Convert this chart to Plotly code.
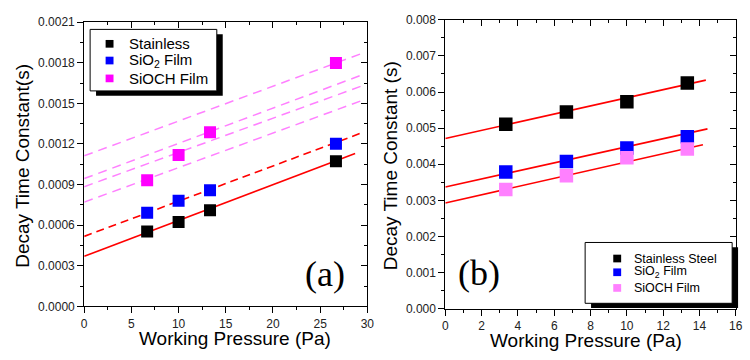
import plotly.graph_objects as go

W, H = 750, 360
def PX(x): return x / W
def PY(y): return 1 - y / H

# ---------------- data: panel (a) ----------------
pressure_a = [6.67, 10.0, 13.33, 26.67]
stainless_a = [0.000553, 0.000624, 0.000711, 0.001072]
sio2_a = [0.000692, 0.000780, 0.000858, 0.001202]
sioch_a = [0.000932, 0.001118, 0.001287, 0.001798]

fit_x_stainless_a = [0.0, 28.7]
fit_y_stainless_a = [0.000370, 0.001129]
fit_x_sio2_a = [0.0, 29.4]
fit_y_sio2_a = [0.000517, 0.001282]
fit_x_sioch_a = [0.0, 29.4]
sioch_fit_start_a = [0.001112, 0.000944, 0.000884, 0.000770]
sioch_fit_end_a = [0.001868, 0.001709, 0.001628, 0.001520]

# ---------------- data: panel (b) ----------------
pressure_b = [3.33, 6.67, 10.0, 13.33]
stainless_b = [0.00511, 0.00545, 0.00573, 0.00625]
sio2_b = [0.003785, 0.00408, 0.00445, 0.00476]
sioch_b = [0.00330, 0.00368, 0.00418, 0.00442]

fit_x_stainless_b = [0.0, 14.35]
fit_y_stainless_b = [0.004716, 0.00633]
fit_x_sio2_b = [0.0, 14.44]
fit_y_sio2_b = [0.00337, 0.00498]
fit_x_sioch_b = [0.0, 14.19]
fit_y_sioch_b = [0.00293, 0.00454]

FONT = "Arial, Liberation Sans, sans-serif"
SERIF = "Times New Roman, Liberation Serif, serif"
RED = "#ff0000"
MAGENTA = "#ff00ff"
PINK = "#ff80ff"
BLUE = "#0000ff"

fig = go.Figure()

# panel (a) fits
for s, e in zip(sioch_fit_start_a, sioch_fit_end_a):
    fig.add_trace(go.Scatter(x=fit_x_sioch_a, y=[s, e], mode="lines",
                             line=dict(color=PINK, width=1.5, dash="9px,6px"),
                             showlegend=False, hoverinfo="skip", xaxis="x", yaxis="y"))
fig.add_trace(go.Scatter(x=fit_x_sio2_a, y=fit_y_sio2_a, mode="lines",
                         line=dict(color=RED, width=1.6, dash="8px,5px"),
                         showlegend=False, hoverinfo="skip", xaxis="x", yaxis="y"))
fig.add_trace(go.Scatter(x=fit_x_stainless_a, y=fit_y_stainless_a, mode="lines",
                         line=dict(color=RED, width=1.6),
                         showlegend=False, hoverinfo="skip", xaxis="x", yaxis="y"))
for ys, c, n in [(stainless_a, "black", "Stainless"), (sio2_a, BLUE, "SiO2 Film"),
                 (sioch_a, MAGENTA, "SiOCH Film")]:
    fig.add_trace(go.Scatter(x=pressure_a, y=ys, mode="markers", name=n,
                             marker=dict(symbol="square", size=12, color=c, line=dict(width=0)),
                             showlegend=False, xaxis="x", yaxis="y"))

# panel (b) fits
for fx, fy in [(fit_x_stainless_b, fit_y_stainless_b), (fit_x_sio2_b, fit_y_sio2_b),
               (fit_x_sioch_b, fit_y_sioch_b)]:
    fig.add_trace(go.Scatter(x=fx, y=fy, mode="lines", line=dict(color=RED, width=1.6),
                             showlegend=False, hoverinfo="skip", xaxis="x2", yaxis="y2"))
for ys, c, n in [(stainless_b, "black", "Stainless Steel"), (sio2_b, BLUE, "SiO2 Film"),
                 (sioch_b, PINK, "SiOCH Film")]:
    fig.add_trace(go.Scatter(x=pressure_b, y=ys, mode="markers", name=n,
                             marker=dict(symbol="square", size=13.5, color=c, line=dict(width=0)),
                             showlegend=False, xaxis="x2", yaxis="y2"))

# invisible traces to create the mirror (top/right) axes
fig.add_trace(go.Scatter(x=[None], y=[None], showlegend=False, hoverinfo="skip", xaxis="x3", yaxis="y3"))
fig.add_trace(go.Scatter(x=[None], y=[None], showlegend=False, hoverinfo="skip", xaxis="x4", yaxis="y4"))

xa = [PX(82.3), PX(369.3)]
ya = [PY(311.5), PY(15.7)]
xb = [PX(448.3), PX(742.7)]
yb = [PY(314), PY(13.3)]

tickfont = dict(family=FONT, size=12, color="#222")
titlefont = dict(family=FONT, size=19, color="black")

def main_axis(domain, rng, dtick, minor_dtick, anchor, fmt=None):
    d = dict(domain=domain, range=rng, anchor=anchor, showgrid=False, zeroline=False,
             showline=True, linecolor="black", linewidth=1,
             ticks="outside", ticklen=6, tickwidth=1, tickcolor="black",
             tick0=0, dtick=dtick, tickfont=tickfont, ticklabeloverflow="allow",
             minor=dict(ticks="outside", ticklen=3, tickwidth=1, tickcolor="black",
                        dtick=minor_dtick, tick0=0, showgrid=False))
    if fmt:
        d["tickformat"] = fmt
    return d

def mirror_axis(over, anchor, side, rng, dtick, minor_dtick):
    return dict(overlaying=over, anchor=anchor, side=side, range=rng, showgrid=False,
                zeroline=False, showline=True, linecolor="black", linewidth=1,
                ticks="inside", ticklen=6, tickwidth=1, tickcolor="black",
                tick0=0, dtick=dtick, showticklabels=False,
                minor=dict(ticks="inside", ticklen=3, tickwidth=1, tickcolor="black",
                           dtick=minor_dtick, tick0=0, showgrid=False))

fig.update_layout(
    width=W, height=H, margin=dict(l=0, r=0, t=0, b=0),
    paper_bgcolor="white", plot_bgcolor="white", showlegend=False,
    font=dict(family=FONT),
    xaxis=main_axis(xa, [0, 30], 5, 2.5, "y"),
    yaxis=main_axis(ya, [0, 0.0021], 0.0003, 0.00015, "x", fmt=".4f"),
    xaxis2=main_axis(xb, [0, 16], 2, 1, "y2"),
    yaxis2=main_axis(yb, [0, 0.008], 0.001, 0.0005, "x2", fmt=".3f"),
    xaxis3=mirror_axis("x", "y3", "top", [0, 30], 5, 2.5),
    yaxis3=mirror_axis("y", "x3", "right", [0, 0.0021], 0.0003, 0.00015),
    xaxis4=mirror_axis("x2", "y4", "top", [0, 16], 2, 1),
    yaxis4=mirror_axis("y2", "x4", "right", [0, 0.008], 0.001, 0.0005),
)

shapes = []
annotations = []

def legend_box(x0, y0, x1, y1, dx, dy):
    shapes.append(dict(type="rect", xref="paper", yref="paper", layer="above",
                       x0=PX(x0 + dx), x1=PX(x1 + dx), y0=PY(y1 + dy), y1=PY(y0 + dy),
                       fillcolor="black", line=dict(width=0)))
    shapes.append(dict(type="rect", xref="paper", yref="paper", layer="above",
                       x0=PX(x0), x1=PX(x1), y0=PY(y1), y1=PY(y0),
                       fillcolor="white", line=dict(color="black", width=1)))

def legend_item(mx, my, msize, color, text, tx, fsize):
    h = msize / 2
    shapes.append(dict(type="rect", xref="paper", yref="paper", layer="above",
                       x0=PX(mx - h), x1=PX(mx + h), y0=PY(my + h), y1=PY(my - h),
                       fillcolor=color, line=dict(width=0)))
    annotations.append(dict(xref="paper", yref="paper", x=PX(tx), y=PY(my), text=text,
                            showarrow=False, xanchor="left", yanchor="middle",
                            font=dict(family=FONT, size=fsize, color="black")))

def axis_title(x, y, text, angle=0):
    annotations.append(dict(xref="paper", yref="paper", x=PX(x), y=PY(y), text=text,
                            showarrow=False, xanchor="center", yanchor="middle",
                            textangle=angle, font=titlefont))

# axis titles
axis_title(235, 344.5, "Working Pressure (Pa)")
axis_title(591, 347.5, "Working Pressure (Pa)")
axis_title(19.5, 165, "Decay Time Constant(s)", -90)
axis_title(393, 165, "Decay Time Constant (s)", -90)

# legend (a)
legend_box(88.3, 23.3, 216.7, 87.3, 6, 5)
legend_item(108, 38.3, 8, "black", "Stainless", 126, 15)
legend_item(108, 55.7, 8, BLUE, "SiO<sub>2</sub> Film", 126, 15)
legend_item(108, 74.3, 8, MAGENTA, "SiOCH Film", 126, 15)

# legend (b)
legend_box(590, 245, 739, 308.3, 6, 5)
legend_item(622.5, 261.7, 8, "black", "Stainless Steel", 638, 12.5)
legend_item(622.5, 276, 8, BLUE, "SiO<sub>2</sub> Film", 638, 12.5)
legend_item(622.5, 292.3, 8, PINK, "SiOCH Film", 638, 12.5)

# panel labels
annotations.append(dict(xref="paper", yref="paper", x=PX(326.7), y=PY(278), text="(a)",
                        showarrow=False, xanchor="center", yanchor="middle",
                        font=dict(family=SERIF, size=36, color="black")))
annotations.append(dict(xref="paper", yref="paper", x=PX(482), y=PY(277), text="(b)",
                        showarrow=False, xanchor="center", yanchor="middle",
                        font=dict(family=SERIF, size=36, color="black")))

fig.update_layout(shapes=shapes, annotations=annotations)
fig.write_html("out.html", config={"displayModeBar": False},
               post_script="document.body.style.margin='0';document.body.style.padding='0';")
